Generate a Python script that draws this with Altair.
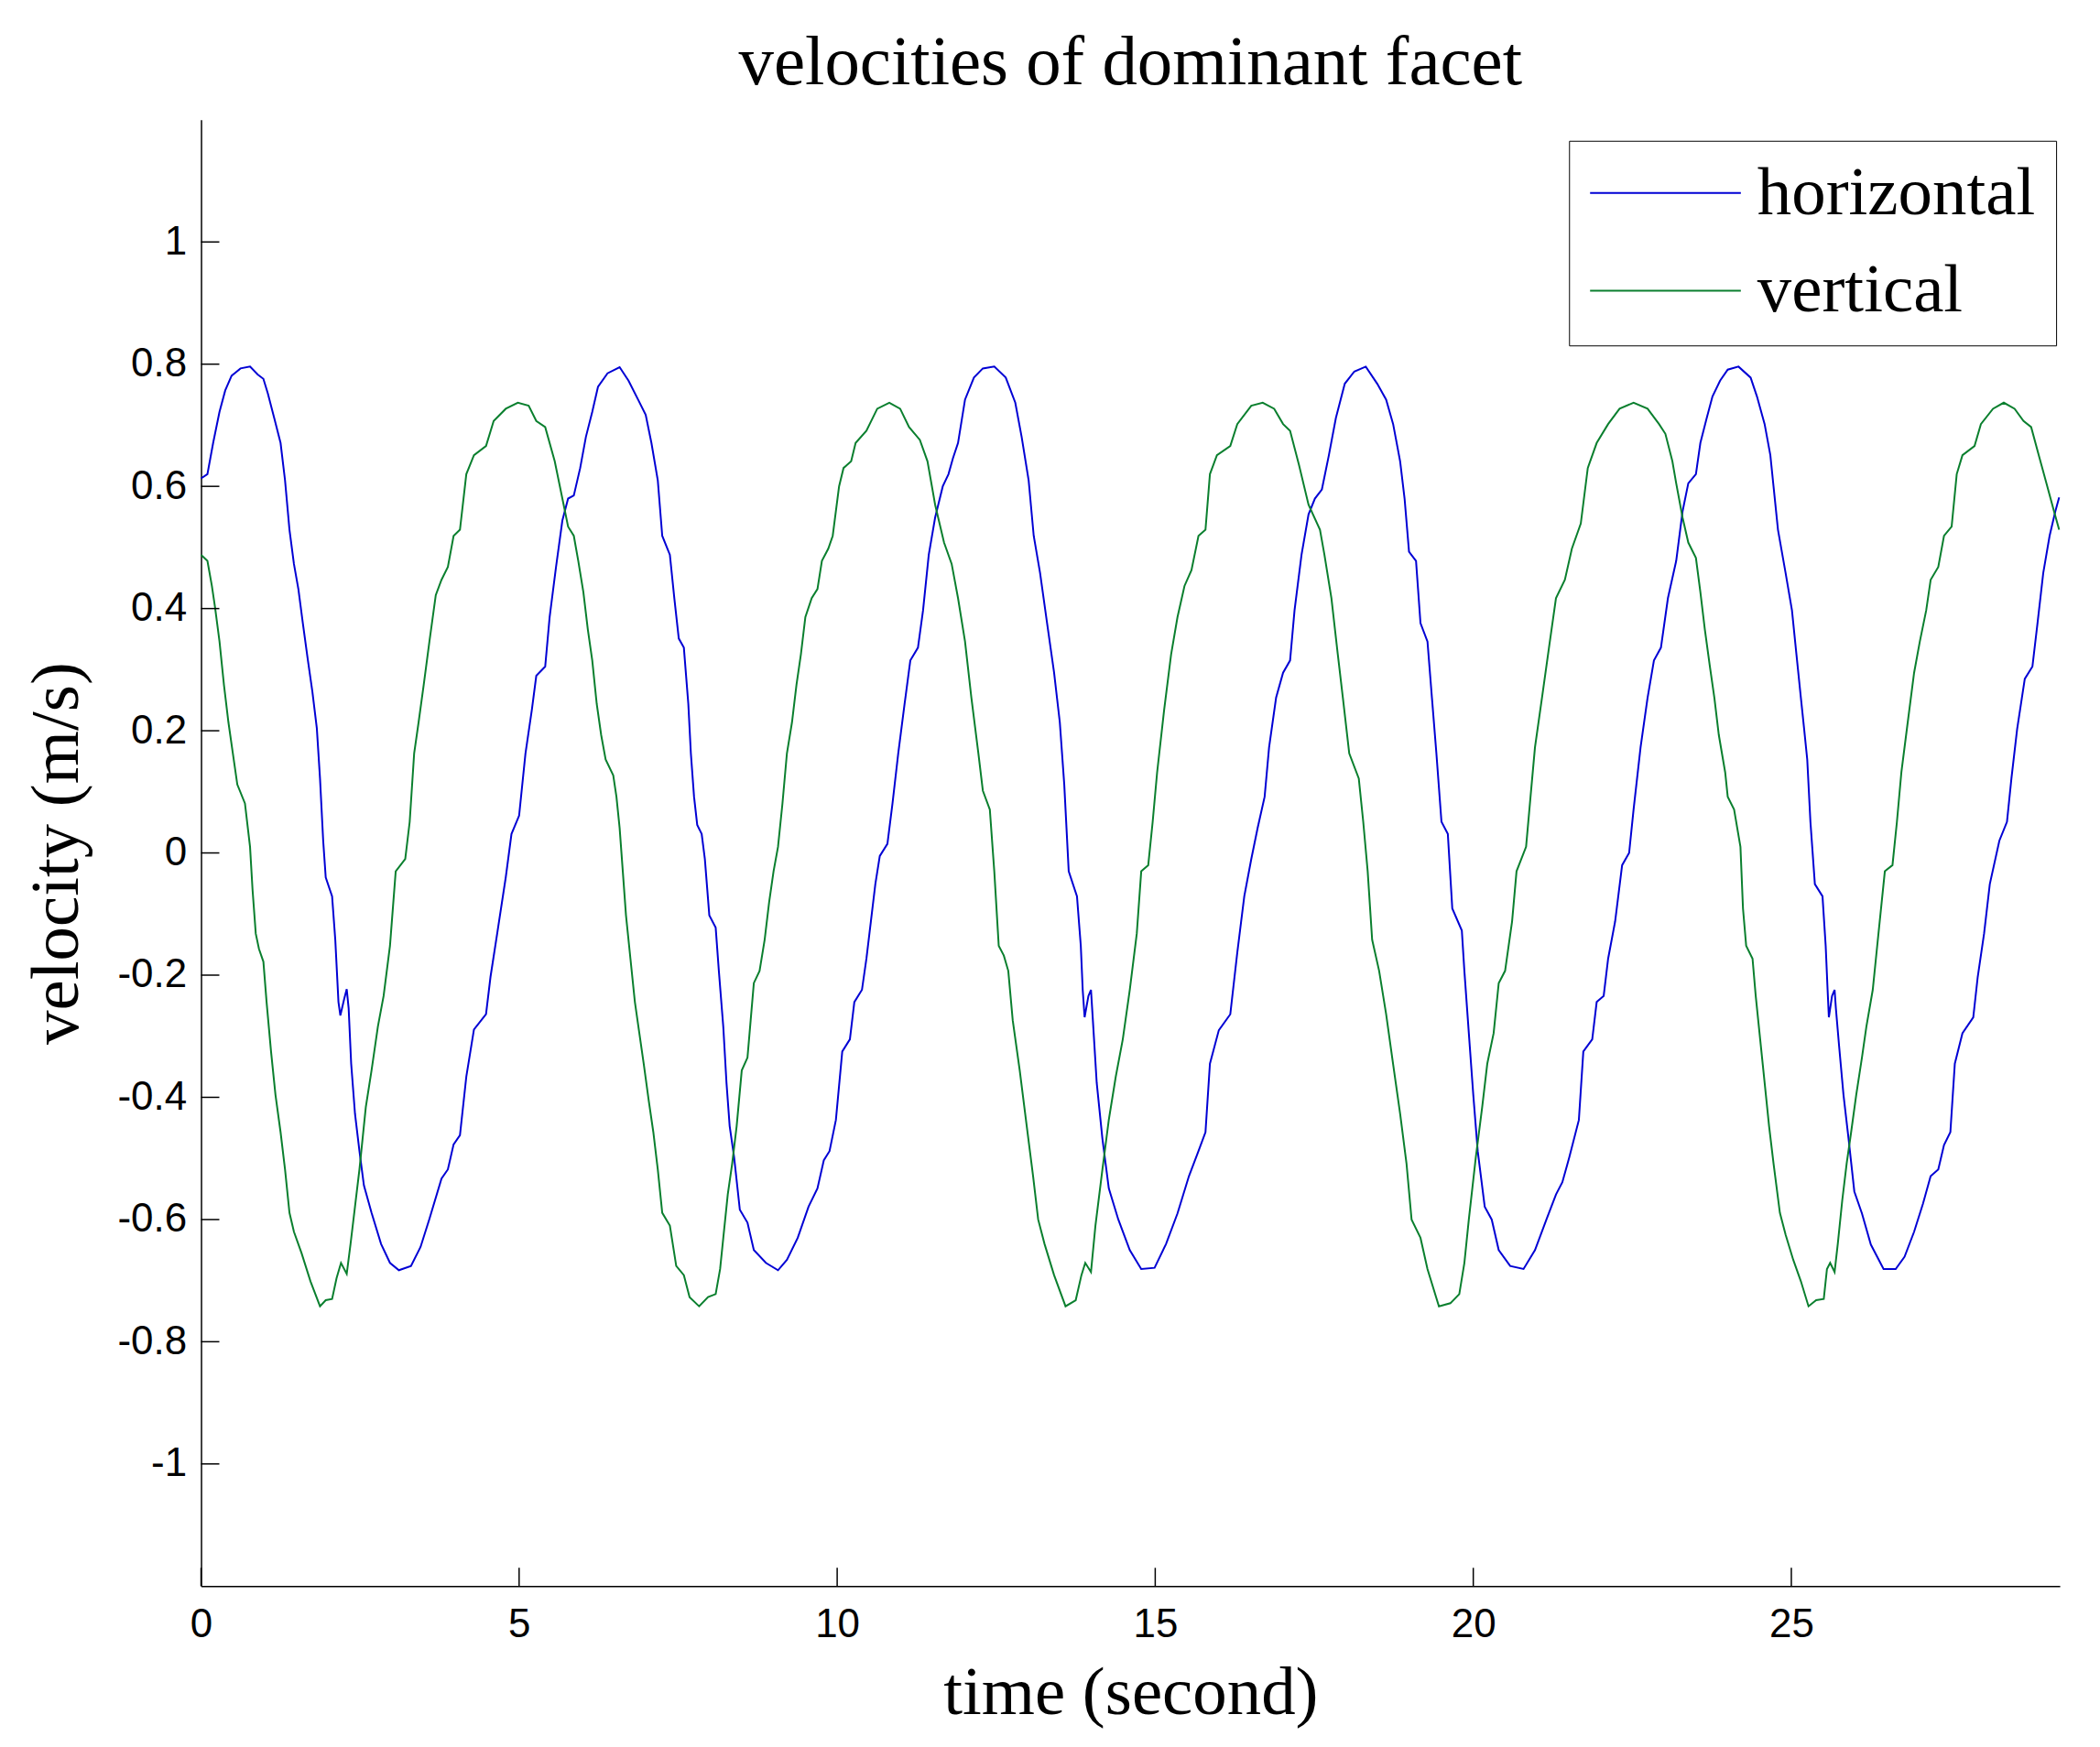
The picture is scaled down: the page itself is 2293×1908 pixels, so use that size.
import altair as alt
import pandas as pd

TITLE = "velocities of dominant facet"
X_TITLE = "time (second)"
Y_TITLE = "velocity (m/s)"
SERIES = ["horizontal", "vertical"]
COLORS = ["#0000d4", "#0a7f2e"]
X_TICKS = [0, 5, 10, 15, 20, 25]
Y_TICKS = [-1, -0.8, -0.6, -0.4, -0.2, 0, 0.2, 0.4, 0.6, 0.8, 1]
X_DOMAIN = [0, 29.22]
Y_DOMAIN = [-1.2, 1.2]

# (time, velocity)
horizontal = [
    (0.00, 0.613), (0.10, 0.620), (0.19, 0.671), (0.29, 0.722), (0.38, 0.757), (0.48, 0.781),
    (0.62, 0.793), (0.77, 0.796), (0.89, 0.783), (0.98, 0.776), (1.05, 0.752), (1.15, 0.712),
    (1.25, 0.671), (1.32, 0.610), (1.39, 0.529), (1.46, 0.473), (1.53, 0.432), (1.60, 0.376),
    (1.68, 0.315), (1.75, 0.264), (1.82, 0.204), (1.87, 0.122), (1.92, 0.020), (1.96, -0.040),
    (2.06, -0.071), (2.11, -0.142), (2.16, -0.244), (2.19, -0.266), (2.25, -0.239), (2.29, -0.223),
    (2.32, -0.254), (2.36, -0.345), (2.42, -0.427), (2.49, -0.488), (2.56, -0.544), (2.68, -0.589),
    (2.83, -0.640), (2.97, -0.671), (3.11, -0.683), (3.30, -0.676), (3.45, -0.645), (3.59, -0.599),
    (3.78, -0.533), (3.88, -0.518), (3.97, -0.477), (4.07, -0.462), (4.17, -0.366), (4.29, -0.289),
    (4.48, -0.264), (4.55, -0.203), (4.67, -0.122), (4.79, -0.040), (4.88, 0.031), (5.00, 0.061),
    (5.10, 0.163), (5.20, 0.234), (5.27, 0.290), (5.41, 0.305), (5.48, 0.386), (5.58, 0.468),
    (5.68, 0.544), (5.77, 0.580),
    (5.86, 0.585), (5.96, 0.630), (6.05, 0.681), (6.15, 0.722), (6.24, 0.763), (6.39, 0.785),
    (6.58, 0.795), (6.72, 0.773), (6.87, 0.742), (6.99, 0.717), (7.08, 0.671), (7.18, 0.610),
    (7.25, 0.519), (7.37, 0.488), (7.44, 0.417), (7.51, 0.351), (7.59, 0.336), (7.66, 0.244),
    (7.70, 0.163), (7.75, 0.092), (7.80, 0.046), (7.87, 0.031), (7.92, -0.010), (7.99, -0.102),
    (8.09, -0.122), (8.14, -0.193), (8.21, -0.285), (8.26, -0.376), (8.31, -0.447), (8.38, -0.498),
    (8.47, -0.584), (8.59, -0.605), (8.69, -0.650), (8.88, -0.671), (9.07, -0.683), (9.21, -0.666),
    (9.38, -0.630), (9.55, -0.579), (9.69, -0.549), (9.79, -0.503), (9.88, -0.488), (9.98, -0.437),
    (10.08, -0.325), (10.20, -0.305), (10.27, -0.244), (10.39, -0.224), (10.46, -0.173), (10.53, -0.112),
    (10.60, -0.051), (10.67, -0.005), (10.79, 0.015), (10.87, 0.081), (10.96, 0.163), (11.06, 0.244),
    (11.15, 0.315), (11.27, 0.336), (11.35, 0.397), (11.44, 0.488), (11.54, 0.549), (11.66, 0.600),
    (11.75, 0.620), (11.82, 0.646),
    (11.90, 0.671), (12.01, 0.742), (12.15, 0.778), (12.29, 0.793), (12.47, 0.796), (12.65, 0.778),
    (12.80, 0.737), (12.90, 0.681), (13.01, 0.610), (13.09, 0.519), (13.19, 0.458), (13.30, 0.376),
    (13.41, 0.295), (13.50, 0.214), (13.57, 0.112), (13.64, -0.030), (13.77, -0.071), (13.83, -0.152),
    (13.86, -0.224), (13.89, -0.269), (13.95, -0.234), (13.99, -0.224), (14.02, -0.274), (14.08, -0.376),
    (14.17, -0.468), (14.27, -0.549), (14.42, -0.600), (14.60, -0.650), (14.78, -0.681), (14.99, -0.679),
    (15.17, -0.640), (15.35, -0.590), (15.53, -0.529), (15.68, -0.488), (15.79, -0.457), (15.86, -0.345),
    (16.00, -0.290), (16.18, -0.264), (16.29, -0.163), (16.40, -0.071), (16.51, -0.010), (16.61, 0.041),
    (16.72, 0.092), (16.79, 0.173), (16.90, 0.254), (17.01, 0.295), (17.12, 0.315), (17.19, 0.397),
    (17.30, 0.488), (17.41, 0.554), (17.51, 0.580), (17.62, 0.595), (17.73, 0.651), (17.84, 0.712),
    (17.98, 0.768), (18.13, 0.788), (18.31, 0.796), (18.49, 0.768), (18.63, 0.742), (18.74, 0.702),
    (18.85, 0.641), (18.92, 0.580), (18.99, 0.493), (19.10, 0.478), (19.17, 0.376), (19.28, 0.346),
    (19.35, 0.254), (19.42, 0.163), (19.50, 0.051), (19.60, 0.031), (19.67, -0.091), (19.82, -0.127),
    (19.86, -0.193), (19.93, -0.295), (20.00, -0.396), (20.07, -0.488), (20.18, -0.579), (20.29, -0.600),
    (20.40, -0.650), (20.58, -0.676), (20.79, -0.681), (20.97, -0.650), (21.15, -0.600), (21.30, -0.559),
    (21.40, -0.539), (21.51, -0.498), (21.66, -0.437), (21.73, -0.325), (21.87, -0.305), (21.94, -0.244),
    (22.05, -0.234), (22.12, -0.173), (22.23, -0.112), (22.34, -0.020), (22.45, 0.000), (22.52, 0.071),
    (22.63, 0.173), (22.74, 0.254), (22.84, 0.315), (22.95, 0.336), (23.06, 0.417),
    (23.19, 0.478), (23.29, 0.559), (23.38, 0.605), (23.50, 0.620), (23.57, 0.671), (23.67, 0.712),
    (23.76, 0.747), (23.88, 0.773), (24.00, 0.791), (24.17, 0.796), (24.36, 0.778), (24.46, 0.747),
    (24.58, 0.702), (24.67, 0.651), (24.72, 0.600), (24.79, 0.529), (24.91, 0.458), (25.01, 0.397),
    (25.08, 0.325), (25.15, 0.254), (25.20, 0.204), (25.25, 0.153), (25.30, 0.051), (25.37, -0.051),
    (25.49, -0.071), (25.54, -0.152), (25.57, -0.224), (25.59, -0.269), (25.64, -0.234), (25.68, -0.224),
    (25.70, -0.254), (25.75, -0.315), (25.82, -0.396), (25.90, -0.468), (25.99, -0.554), (26.11, -0.590),
    (26.25, -0.641), (26.45, -0.681), (26.64, -0.681), (26.78, -0.661), (26.93, -0.620), (27.07, -0.574),
    (27.19, -0.529), (27.31, -0.518), (27.40, -0.478), (27.50, -0.457), (27.57, -0.345), (27.69, -0.295),
    (27.86, -0.269), (27.93, -0.203), (28.03, -0.132), (28.12, -0.051), (28.27, 0.020), (28.39, 0.051),
    (28.46, 0.122), (28.55, 0.203), (28.67, 0.285), (28.79, 0.305), (28.87, 0.376), (28.96, 0.458),
    (29.06, 0.519), (29.15, 0.559), (29.21, 0.582),
]

vertical = [
    (0.00, 0.488), (0.10, 0.478), (0.17, 0.437), (0.22, 0.402), (0.29, 0.346), (0.36, 0.275),
    (0.43, 0.214), (0.50, 0.163), (0.57, 0.112), (0.69, 0.081), (0.77, 0.010), (0.81, -0.061),
    (0.86, -0.132), (0.91, -0.157), (0.98, -0.178), (1.03, -0.244), (1.10, -0.325), (1.17, -0.396),
    (1.25, -0.457), (1.32, -0.518), (1.39, -0.589), (1.46, -0.620), (1.58, -0.655), (1.72, -0.701),
    (1.87, -0.742), (1.96, -0.732), (2.06, -0.730), (2.13, -0.696), (2.20, -0.671), (2.29, -0.689),
    (2.35, -0.640), (2.42, -0.579), (2.49, -0.518), (2.59, -0.416), (2.68, -0.356), (2.78, -0.284),
    (2.87, -0.234), (2.97, -0.152), (3.06, -0.030), (3.21, -0.010), (3.28, 0.051), (3.35, 0.163),
    (3.42, 0.214), (3.50, 0.275), (3.59, 0.346), (3.69, 0.422), (3.78, 0.447), (3.88, 0.468),
    (3.97, 0.519), (4.07, 0.529), (4.17, 0.620), (4.29, 0.651), (4.48, 0.666), (4.60, 0.707),
    (4.79, 0.727), (4.98, 0.737), (5.15, 0.732), (5.27, 0.707), (5.41, 0.697), (5.56, 0.641),
    (5.70, 0.570), (5.77, 0.534),
    (5.86, 0.519), (5.93, 0.478), (6.01, 0.427), (6.08, 0.366), (6.15, 0.315), (6.22, 0.244),
    (6.29, 0.193), (6.36, 0.153), (6.48, 0.127), (6.53, 0.092), (6.58, 0.041), (6.63, -0.030),
    (6.68, -0.102), (6.75, -0.173), (6.82, -0.244), (6.89, -0.295), (6.96, -0.346), (7.04, -0.407),
    (7.11, -0.457), (7.18, -0.518), (7.25, -0.589), (7.37, -0.610), (7.47, -0.676), (7.59, -0.691),
    (7.68, -0.727), (7.83, -0.742), (7.97, -0.727), (8.09, -0.722), (8.16, -0.681), (8.21, -0.630),
    (8.28, -0.559), (8.35, -0.508), (8.42, -0.447), (8.50, -0.356), (8.59, -0.335), (8.64, -0.274),
    (8.69, -0.213), (8.78, -0.193), (8.86, -0.142), (8.93, -0.081), (9.00, -0.030), (9.07, 0.010),
    (9.14, 0.081), (9.21, 0.163), (9.29, 0.214), (9.36, 0.275), (9.43, 0.325), (9.50, 0.386),
    (9.60, 0.417), (9.69, 0.432), (9.76, 0.478), (9.86, 0.498), (9.93, 0.519), (10.03, 0.600),
    (10.10, 0.630), (10.22, 0.641), (10.29, 0.671), (10.46, 0.691), (10.63, 0.727), (10.82, 0.737),
    (10.99, 0.727), (11.13, 0.697), (11.30, 0.676), (11.42, 0.641), (11.54, 0.570), (11.68, 0.508),
    (11.80, 0.473),
    (11.90, 0.417), (12.01, 0.346), (12.11, 0.254), (12.22, 0.163), (12.29, 0.102), (12.40, 0.071),
    (12.47, -0.030), (12.54, -0.152), (12.62, -0.168), (12.69, -0.193), (12.76, -0.274), (12.87, -0.356),
    (12.98, -0.447), (13.08, -0.529), (13.16, -0.600), (13.26, -0.640), (13.41, -0.691), (13.59, -0.742),
    (13.75, -0.732), (13.84, -0.691), (13.90, -0.671), (13.99, -0.686), (14.06, -0.610), (14.17, -0.518),
    (14.27, -0.437), (14.38, -0.366), (14.49, -0.305), (14.60, -0.224), (14.71, -0.132), (14.78, -0.030),
    (14.89, -0.020), (14.96, 0.051), (15.03, 0.132), (15.14, 0.234), (15.25, 0.325), (15.35, 0.386),
    (15.46, 0.437), (15.57, 0.463), (15.68, 0.519), (15.79, 0.529), (15.86, 0.620), (15.97, 0.651),
    (16.18, 0.666), (16.29, 0.702), (16.51, 0.732), (16.69, 0.737), (16.87, 0.727), (17.01, 0.702),
    (17.12, 0.691), (17.26, 0.635), (17.41, 0.570), (17.59, 0.529), (17.66, 0.488), (17.77, 0.417),
    (17.87, 0.325), (17.95, 0.254), (18.05, 0.163), (18.20, 0.122), (18.27, 0.051), (18.34, -0.030),
    (18.41, -0.142), (18.52, -0.193), (18.63, -0.264), (18.74, -0.346), (18.85, -0.427), (18.95, -0.508),
    (19.03, -0.600), (19.17, -0.630), (19.28, -0.681), (19.46, -0.742), (19.64, -0.737), (19.78, -0.722),
    (19.86, -0.671), (19.93, -0.600), (20.04, -0.498), (20.14, -0.416), (20.22, -0.345), (20.32, -0.295),
    (20.40, -0.213), (20.50, -0.193), (20.61, -0.112), (20.68, -0.030), (20.83, 0.010), (20.90, 0.092),
    (20.97, 0.173), (21.08, 0.254), (21.19, 0.336), (21.30, 0.417), (21.44, 0.447), (21.55, 0.498),
    (21.69, 0.539), (21.80, 0.630), (21.94, 0.671), (22.12, 0.702), (22.30, 0.727), (22.52, 0.737),
    (22.74, 0.727), (22.92, 0.702), (23.02, 0.686), (23.13, 0.641),
    (23.19, 0.605), (23.29, 0.549), (23.38, 0.508), (23.50, 0.483), (23.57, 0.427), (23.64, 0.366),
    (23.72, 0.305), (23.79, 0.254), (23.86, 0.193), (23.96, 0.132), (24.00, 0.092), (24.10, 0.071),
    (24.20, 0.010), (24.24, -0.091), (24.29, -0.152), (24.39, -0.173), (24.44, -0.234), (24.51, -0.305),
    (24.58, -0.376), (24.65, -0.447), (24.72, -0.508), (24.82, -0.589), (24.91, -0.625), (25.03, -0.666),
    (25.15, -0.701), (25.27, -0.742), (25.39, -0.732), (25.51, -0.730), (25.56, -0.681), (25.61, -0.671),
    (25.68, -0.686), (25.73, -0.640), (25.80, -0.569), (25.87, -0.508), (25.94, -0.457), (26.02, -0.396),
    (26.11, -0.335), (26.18, -0.284), (26.28, -0.224), (26.35, -0.152), (26.47, -0.030), (26.59, -0.020),
    (26.66, 0.051), (26.73, 0.132), (26.83, 0.214), (26.93, 0.295), (27.02, 0.346), (27.12, 0.397),
    (27.19, 0.447), (27.31, 0.468), (27.40, 0.519), (27.52, 0.534), (27.60, 0.620), (27.69, 0.651),
    (27.88, 0.666), (27.98, 0.702), (28.17, 0.727), (28.34, 0.737), (28.51, 0.727), (28.65, 0.707),
    (28.77, 0.697), (28.89, 0.651), (29.01, 0.605), (29.13, 0.559), (29.21, 0.529),
]

rows = [{"t": t, "v": v, "series": SERIES[0]} for t, v in horizontal]
rows += [{"t": t, "v": v, "series": SERIES[1]} for t, v in vertical]
df = pd.DataFrame(rows)

W, H = 2034, 1605
TICK_LEN = 20
SERIF = "Liberation Serif"
SANS = "Liberation Sans"

xscale = alt.Scale(domain=X_DOMAIN, nice=False, zero=False)
yscale = alt.Scale(domain=Y_DOMAIN, nice=False, zero=False)

x_axis = alt.Axis(values=X_TICKS, title=X_TITLE, ticks=False, tickSize=0, labelFlush=False,
                  labelPadding=20, titlePadding=17, grid=False)
y_axis = alt.Axis(values=Y_TICKS, title=Y_TITLE, ticks=False, tickSize=0, labelFlush=False,
                  labelPadding=16, titlePadding=28, grid=False,
                  labelExpr="(datum.value < 0 ? '-' : '') + format(abs(datum.value), '~g')")

lines = alt.Chart(df).mark_line(strokeWidth=2).encode(
    x=alt.X("t:Q", scale=xscale, axis=x_axis),
    y=alt.Y("v:Q", scale=yscale, axis=y_axis),
    color=alt.Color("series:N",
                    scale=alt.Scale(domain=SERIES, range=COLORS),
                    legend=alt.Legend(orient="none", legendX=1497, legendY=23, title=None,
                                      direction="vertical", symbolType="stroke",
                                      symbolSize=27225, symbolStrokeWidth=2, clipHeight=70,
                                      labelFont=SERIF, labelFontSize=75, labelColor="black",
                                      labelOffset=17, labelLimit=800, padding=22, rowPadding=32,
                                      strokeColor="black", fillColor="white")),
    order=alt.Order("t:Q"),
)

xt = pd.DataFrame({"t": X_TICKS})
x_ticks = alt.Chart(xt).mark_rule(color="black", strokeWidth=1.5).encode(
    x=alt.X("t:Q", scale=xscale, axis=x_axis),
    y=alt.value(H),
    y2=alt.value(H - TICK_LEN),
)

yt = pd.DataFrame({"v": Y_TICKS})
y_ticks = alt.Chart(yt).mark_rule(color="black", strokeWidth=1.5).encode(
    y=alt.Y("v:Q", scale=yscale, axis=y_axis),
    x=alt.value(0),
    x2=alt.value(TICK_LEN),
)

chart = alt.layer(lines, x_ticks, y_ticks).properties(
    width=W,
    height=H,
    title=alt.TitleParams(TITLE, font=SERIF, fontSize=77, fontWeight="normal",
                          color="black", anchor="middle", frame="group", offset=23),
    padding={"left": 16, "top": 20, "right": 32, "bottom": 10},
    background="white",
).configure_view(stroke=None).configure_axis(
    domainColor="black", domainWidth=1.5,
    labelFont=SANS, labelFontSize=44, labelColor="black",
    titleFont=SERIF, titleFontSize=75, titleFontWeight="normal", titleColor="black",
)

chart.save("out.html", embed_options={"renderer": "svg", "actions": False})
